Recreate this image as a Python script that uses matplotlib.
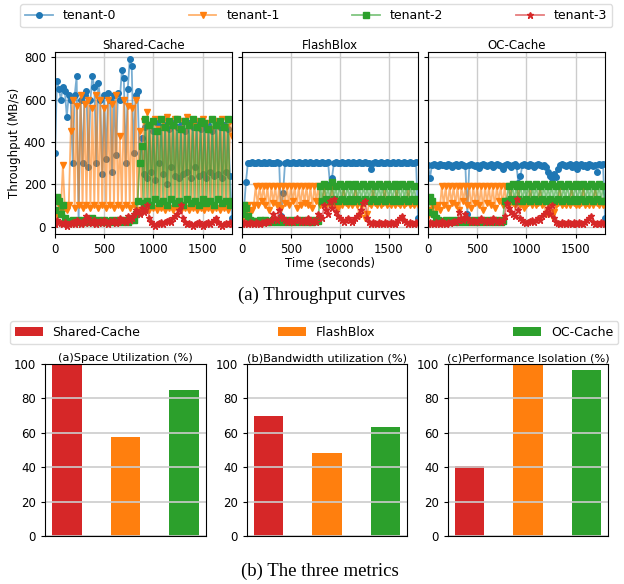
import numpy as np
import matplotlib
matplotlib.use("Agg")
import matplotlib.pyplot as plt
from matplotlib.colors import to_rgba

# time axis, one sample every 20 s
t = np.arange(0, 1801, 20)

tenants = ["tenant-0", "tenant-1", "tenant-2", "tenant-3"]
systems = ["Shared-Cache", "FlashBlox", "OC-Cache"]

# --- Shared-Cache throughput (MB/s)
sc_t0 = [350, 690, 650, 600, 660, 640, 520, 620, 600, 300,
         620, 710, 20, 600, 300, 620, 640, 280, 600, 710,
         660, 300, 680, 600, 250, 620, 320, 630, 600, 260,
         620, 340, 630, 600, 740, 700, 300, 650, 790, 760,
         350, 620, 640, 300, 420, 250, 470, 230, 480, 260,
         450, 220, 490, 300, 470, 250, 480, 200, 460, 280,
         490, 240, 470, 230, 480, 250, 450, 260, 490, 230,
         470, 280, 490, 240, 460, 250, 470, 230, 480, 260,
         450, 240, 490, 250, 470, 230, 480, 260, 460, 240,
         40]
sc_t1 = [10, 60, 100, 80, 290, 90, 80, 100, 450, 600,
         90, 570, 100, 620, 90, 580, 100, 600, 90, 560,
         100, 620, 90, 600, 100, 560, 90, 600, 100, 580,
         90, 620, 100, 430, 90, 600, 100, 570, 90, 560,
         100, 600, 80, 450, 80, 500, 90, 540, 80, 480,
         90, 510, 80, 460, 90, 500, 80, 520, 90, 480,
         80, 510, 90, 460, 80, 500, 90, 520, 80, 480,
         90, 500, 80, 470, 90, 510, 80, 490, 90, 460,
         80, 500, 90, 480, 80, 510, 90, 470, 80, 500,
         430]
sc_t2 = [80, 140, 120, 60, 100, 40, 20, 25, 20, 30,
         20, 25, 30, 20, 25, 20, 30, 25, 20, 40,
         25, 20, 30, 20, 25, 30, 20, 25, 20, 30,
         25, 20, 30, 25, 20, 30, 25, 20, 30, 40,
         30, 60, 120, 300, 380, 110, 510, 120, 480, 100,
         500, 130, 450, 110, 510, 120, 470, 100, 500, 130,
         480, 110, 510, 120, 460, 100, 500, 130, 480, 110,
         510, 120, 470, 100, 500, 130, 490, 110, 460, 120,
         510, 100, 480, 130, 500, 110, 470, 120, 510, 100,
         120]
sc_t3 = [10, 30, 20, 15, 10, 20, 5, 10, 15, 20,
         10, 30, 20, 10, 25, 15, 50, 40, 20, 15,
         30, 10, 20, 25, 15, 30, 20, 10, 25, 20,
         30, 15, 20, 40, 25, 30, 20, 50, 30, 40,
         60, 80, 70, 60, 90, 70, 80, 100, 40, 20,
         10, 5, 10, 15, 20, 10, 20, 25, 30, 20,
         40, 50, 60, 80, 100, 40, 20, 10, 15, 10,
         5, 10, 15, 20, 10, 5, 10, 15, 20, 10,
         20, 30, 40, 20, 10, 5, 10, 15, 10, 20,
         10]

# --- FlashBlox throughput (MB/s)
fb_t0 = [100, 80, 210, 300, 300, 305, 300, 300, 305, 300,
         300, 305, 300, 300, 305, 300, 300, 300, 305, 300,
         50, 160, 300, 305, 300, 300, 305, 300, 300, 305,
         300, 300, 305, 300, 300, 305, 300, 300, 305, 300,
         300, 305, 300, 300, 305, 200, 230, 300, 305, 300,
         300, 305, 300, 300, 305, 300, 300, 305, 300, 300,
         305, 300, 300, 305, 300, 300, 270, 300, 305, 300,
         300, 305, 300, 300, 305, 300, 300, 305, 300, 300,
         305, 300, 300, 305, 300, 300, 305, 300, 300, 305,
         40]
fb_t1 = [40, 60, 90, 100, 70, 80, 100, 190, 100, 190,
         120, 190, 100, 190, 80, 190, 110, 190, 100, 190,
         90, 190, 110, 190, 100, 190, 120, 190, 90, 190,
         100, 190, 110, 190, 100, 190, 90, 190, 120, 190,
         100, 110, 190, 100, 120, 100, 190, 110, 100, 90,
         110, 100, 190, 110, 100, 120, 100, 110, 190, 100,
         50, 100, 110, 40, 60, 110, 100, 190, 110, 100,
         120, 100, 110, 190, 100, 110, 100, 120, 100, 190,
         110, 100, 120, 100, 110, 190, 100, 110, 100, 120,
         100]
fb_t2 = [60, 100, 90, 50, 30, 25, 20, 25, 20, 30,
         20, 25, 30, 20, 25, 20, 30, 25, 20, 25,
         30, 20, 25, 30, 20, 25, 30, 20, 25, 30,
         20, 25, 30, 20, 25, 30, 20, 25, 30, 25,
         190, 120, 200, 130, 190, 120, 210, 130, 190, 120,
         200, 130, 190, 120, 200, 130, 190, 120, 200, 130,
         190, 120, 200, 130, 190, 120, 200, 130, 190, 120,
         200, 130, 190, 120, 200, 130, 190, 120, 200, 130,
         190, 120, 200, 130, 190, 120, 200, 130, 190, 120,
         130]
fb_t3 = [10, 20, 15, 10, 20, 15, 10, 20, 15, 10,
         20, 15, 20, 25, 20, 30, 60, 40, 30, 80,
         50, 40, 30, 20, 30, 25, 20, 30, 40, 30,
         20, 30, 25, 20, 40, 30, 20, 30, 20, 60,
         50, 40, 100, 80, 60, 120, 90, 130, 70, 50,
         40, 30, 20, 30, 40, 30, 20, 30, 40, 50,
         60, 80, 110, 120, 40, 20, 10, 20, 15, 10,
         20, 15, 10, 20, 15, 10, 20, 15, 10, 20,
         30, 40, 50, 30, 20, 10, 20, 15, 10, 20,
         15]

# --- OC-Cache throughput (MB/s)
oc_t0 = [290, 230, 290, 295, 290, 285, 295, 290, 290, 285,
         295, 290, 280, 290, 295, 285, 290, 295, 290, 285,
         60, 290, 295, 290, 285, 290, 275, 290, 295, 290,
         285, 290, 295, 280, 290, 295, 290, 285, 270, 290,
         295, 290, 280, 290, 295, 285, 205, 240, 290, 295,
         290, 285, 295, 290, 280, 290, 295, 290, 285, 290,
         280, 260, 240, 230, 250, 235, 270, 290, 295, 290,
         285, 290, 295, 280, 290, 295, 270, 290, 295, 285,
         290, 280, 295, 290, 285, 290, 260, 295, 290, 295,
         40]
oc_t1 = [50, 80, 100, 60, 90, 100, 80, 190, 100, 190,
         90, 190, 110, 190, 100, 190, 80, 190, 120, 190,
         100, 190, 90, 190, 110, 190, 100, 190, 80, 190,
         110, 190, 100, 190, 90, 190, 120, 190, 100, 190,
         110, 100, 190, 110, 100, 120, 190, 100, 110, 90,
         100, 110, 190, 100, 120, 100, 110, 190, 100, 110,
         60, 110, 100, 50, 70, 100, 110, 190, 100, 110,
         100, 120, 100, 190, 110, 100, 120, 100, 110, 190,
         100, 110, 100, 120, 100, 190, 110, 100, 120, 100,
         110]
oc_t2 = [70, 140, 120, 60, 40, 30, 25, 20, 25, 30,
         20, 25, 30, 20, 25, 30, 20, 25, 30, 20,
         25, 30, 20, 25, 30, 20, 25, 30, 20, 25,
         30, 20, 25, 30, 20, 25, 30, 20, 25, 120,
         120, 190, 130, 200, 120, 190, 130, 200, 120, 190,
         130, 200, 120, 190, 130, 200, 120, 190, 130, 200,
         120, 190, 130, 200, 120, 190, 130, 200, 120, 190,
         130, 200, 120, 190, 130, 200, 120, 190, 130, 200,
         120, 190, 130, 200, 120, 190, 130, 200, 120, 190,
         120]
oc_t3 = [10, 20, 15, 10, 20, 15, 10, 25, 15, 10,
         20, 15, 20, 25, 20, 30, 70, 40, 30, 60,
         40, 30, 20, 30, 25, 20, 30, 40, 30, 20,
         30, 25, 20, 40, 30, 20, 30, 20, 30, 50,
         110, 90, 70, 60, 50, 130, 80, 40, 30, 20,
         15, 20, 25, 30, 20, 30, 40, 30, 50, 60,
         70, 90, 60, 100, 40, 20, 15, 10, 20, 15,
         10, 20, 15, 10, 20, 15, 10, 20, 15, 10,
         20, 30, 40, 50, 20, 10, 15, 10, 20, 15,
         10]

curves = [[sc_t0, sc_t1, sc_t2, sc_t3],
          [fb_t0, fb_t1, fb_t2, fb_t3],
          [oc_t0, oc_t1, oc_t2, oc_t3]]

# --- the three metrics (%)
metric_titles = ["(a)Space Utilization (%)", "(b)Bandwidth utilization (%)",
                 "(c)Performance Isolation (%)"]
space_util = [100, 57.7, 85.0]
bw_util = [69.9, 48.3, 63.5]
perf_iso = [40.8, 100, 96.7]

colors = ["#1f77b4", "#ff7f0e", "#2ca02c", "#d62728"]
markers = ["o", "v", "s", "*"]
msizes = [4, 4.5, 4, 5]
bar_colors = ["#d62728", "#ff7f0e", "#2ca02c"]

W, H = 624, 584
fig = plt.figure(figsize=(W / 100, H / 100), dpi=100)

def box(x0, y0, x1, y1):
    return [x0 / W, 1 - y1 / H, (x1 - x0) / W, (y1 - y0) / H]

top_boxes = [box(55, 52, 232, 234), box(242, 52, 418, 234), box(428, 52, 605, 234)]
axs = []
for k, b in enumerate(top_boxes):
    ax = fig.add_axes(b, sharey=axs[0] if axs else None)
    axs.append(ax)
    for j in range(4):
        ax.plot(t, curves[k][j], color=to_rgba(colors[j], 0.6), lw=1.3,
                marker=markers[j], ms=msizes[j],
                markerfacecolor=colors[j], markeredgecolor=colors[j],
                label=tenants[j])
    ax.set_xlim(0, 1800)
    ax.set_title(systems[k], fontsize=8.5, pad=2)
    ax.grid(True, color="#cccccc", lw=1)
    ax.set_xticks([0, 500, 1000, 1500])
    ax.tick_params(labelsize=8.5, length=3)
    if k > 0:
        ax.tick_params(labelleft=False)
axs[0].set_ylim(-35, 825)
axs[0].set_yticks([0, 200, 400, 600, 800])
axs[0].set_ylabel("Throughput (MB/s)", fontsize=8.5, labelpad=2)
axs[1].set_xlabel("Time (seconds)", fontsize=8.5, labelpad=1)

h, l = axs[0].get_legend_handles_labels()
fig.legend(h, l, loc="lower left", bbox_to_anchor=box(20, 3, 612, 27),
           mode="expand", ncol=4, fontsize=9, borderaxespad=0,
           handlelength=2.2, fancybox=True, framealpha=1, edgecolor="#dddddd")

fig.text(0.516, 1 - 295 / H, "(a) Throughput curves", ha="center", va="center",
         family="Liberation Serif", fontsize=13.5)

bot_boxes = [box(45, 364, 206, 536), box(247, 364, 407, 536), box(448, 364, 608, 536)]
metrics = [space_util, bw_util, perf_iso]
for k, b in enumerate(bot_boxes):
    ax = fig.add_axes(b)
    bars = ax.bar(range(3), metrics[k], width=0.5, color=bar_colors, label=systems)
    ax.set_ylim(0, 100)
    ax.set_xticks([])
    ax.set_yticks([0, 20, 40, 60, 80, 100])
    ax.yaxis.grid(True, color="#cccccc", lw=1.2)
    ax.set_title(metric_titles[k], fontsize=8.2, pad=2)
    ax.tick_params(labelsize=8.5, length=3)
    if k == 0:
        bar_handles = bars.patches

fig.legend(bar_handles, systems, loc="lower left", bbox_to_anchor=box(10, 318, 618, 344),
           mode="expand", ncol=3, fontsize=9, borderaxespad=0,
           handlelength=2.2, fancybox=True, framealpha=1, edgecolor="#dddddd")

fig.text(0.513, 1 - 571 / H, "(b) The three metrics", ha="center", va="center",
         family="Liberation Serif", fontsize=13.5)

fig.savefig("out.png", dpi=100)
